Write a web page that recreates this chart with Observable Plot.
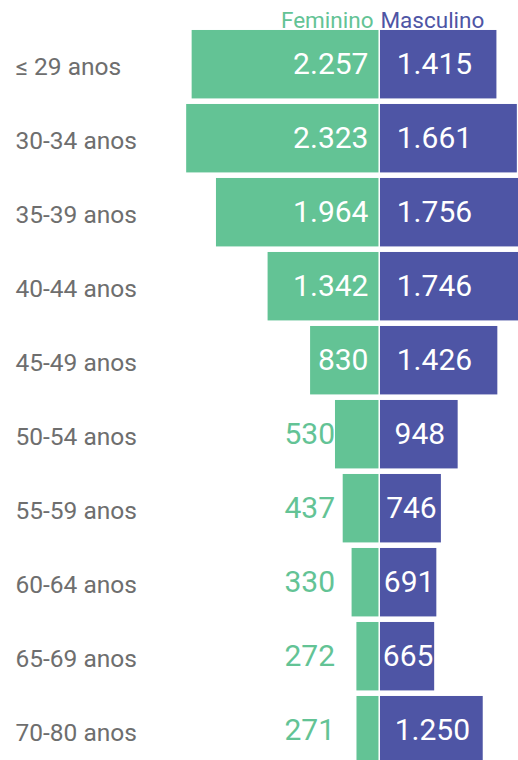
<!DOCTYPE html>
<html>
<head>
<meta charset="utf-8">
<script src="https://cdn.jsdelivr.net/npm/d3@7"></script>
<script src="https://cdn.jsdelivr.net/npm/@observablehq/plot@0.6"></script>
<style>
  html, body { margin: 0; padding: 0; background: #fff; overflow: hidden; }
  #chart svg { display: block; overflow: hidden; }
</style>
</head>
<body>
<div id="chart"></div>
<script>
const categories = ["≤ 29 anos", "30-34 anos", "35-39 anos", "40-44 anos", "45-49 anos", "50-54 anos", "55-59 anos", "60-64 anos", "65-69 anos", "70-80 anos"];
const feminino = [2257, 2323, 1964, 1342, 830, 530, 437, 330, 272, 271];
const masculino = [1415, 1661, 1756, 1746, 1426, 948, 746, 691, 665, 1250];
const seriesNames = ["Feminino", "Masculino"];

const GREEN = "#63c395";
const PURPLE = "#4e55a5";
const GREY = "#6e6e6e";

const fmt = d3.formatLocale({decimal: ",", thousands: ".", grouping: [3], currency: ["", ""]}).format(",d");

const rows = categories.map((c, i) => ({cat: c, f: feminino[i], m: masculino[i]}));
const insideThreshold = 700;
const outsideLabelX = -840;
const maleLabelCap = 1300;

const chart = Plot.plot({
  width: 518,
  height: 760,
  marginTop: 0, marginBottom: 0, marginLeft: 0, marginRight: 0,
  style: {fontFamily: "Roboto, sans-serif", background: "#fff"},
  x: {domain: [-4566, 1675], range: [0, 518], axis: null},
  y: {domain: categories, range: [27.2, 767.2], paddingInner: 0.075, paddingOuter: 0.0375, round: false, axis: null},
  marks: [
    Plot.barX(rows, {y: "cat", x1: d => -d.f, x2: 0, fill: GREEN, insetRight: 0.5}),
    Plot.barX(rows, {y: "cat", x1: 0, x2: d => d.m, fill: PURPLE, insetLeft: 1}),
    // category labels
    Plot.text(rows, {y: "cat", text: "cat", frameAnchor: "left", dx: 15, dy: 2.5, textAnchor: "start", fill: GREY, fontSize: 24.5}),
    // female labels inside
    Plot.text(rows.filter(d => d.f >= insideThreshold), {y: "cat", x: 0, dx: -11, text: d => fmt(d.f), textAnchor: "end", fill: "#fff", fontSize: 30}),
    // female labels outside
    Plot.text(rows.filter(d => d.f < insideThreshold), {y: "cat", x: outsideLabelX, text: d => fmt(d.f), textAnchor: "middle", fill: GREEN, fontSize: 30}),
    // male labels
    Plot.text(rows, {y: "cat", x: d => Math.min(d.m, maleLabelCap) / 2, dx: 1, text: d => fmt(d.m), textAnchor: "middle", fill: "#fff", fontSize: 30}),
    // header
    Plot.text([seriesNames[0]], {x: 0, frameAnchor: "top", lineAnchor: "bottom", dy: 27, dx: -6, text: d => d, textAnchor: "end", fill: GREEN, fontSize: 22.5}),
    Plot.text([seriesNames[1]], {x: 0, frameAnchor: "top", lineAnchor: "bottom", dy: 27, dx: 1, text: d => d, textAnchor: "start", fill: PURPLE, fontSize: 22.5})
  ]
});
document.getElementById("chart").appendChild(chart);
</script>
</body>
</html>
